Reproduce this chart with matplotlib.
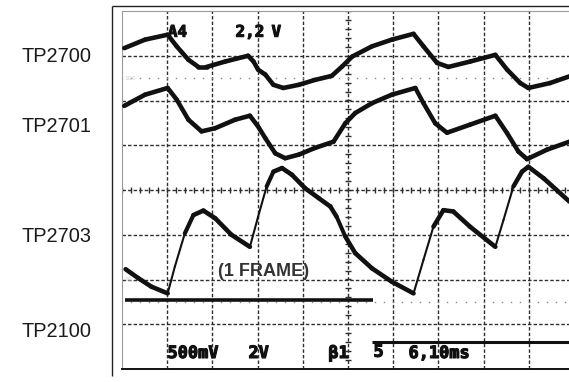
import numpy as np
import matplotlib
matplotlib.use("Agg")
import matplotlib.pyplot as plt
import matplotlib.patheffects as pe
from matplotlib.collections import LineCollection

# ---- data (time in scope divisions 0..10, amplitude in divisions -4..4) ----
t_2700 = [0.05, 0.51, 1.01, 1.21, 1.47, 1.69, 1.87, 2.28, 2.79, 2.91, 3.01, 3.17, 3.35, 3.57,
          3.91, 4.27, 4.64, 4.87, 5.09, 5.53, 5.97, 6.45, 6.67, 6.97, 7.22, 7.70, 8.26,
          8.52, 8.81, 8.99, 9.47, 9.90]
v_2700 = [3.17, 3.36, 3.47, 3.21, 2.91, 2.75, 2.75, 2.87, 3.00, 2.87, 2.69, 2.58, 2.35, 2.28,
          2.35, 2.46, 2.55, 2.76, 2.98, 3.21, 3.36, 3.49, 3.21, 2.84, 2.75, 2.87, 3.02,
          2.69, 2.39, 2.28, 2.39, 2.54]

t_2701 = [0.05, 0.51, 1.01, 1.21, 1.47, 1.76, 2.06, 2.50, 2.83, 3.01, 3.17, 3.39, 3.61,
          3.91, 4.27, 4.68, 4.94, 5.16, 5.53, 5.97, 6.49, 6.67, 6.93, 7.19, 7.70, 8.26,
          8.52, 8.77, 8.96, 9.40, 9.90]
v_2701 = [1.88, 2.13, 2.28, 2.02, 1.57, 1.31, 1.38, 1.57, 1.66, 1.42, 1.16, 0.82, 0.71,
          0.79, 0.94, 1.08, 1.49, 1.72, 1.94, 2.13, 2.28, 1.94, 1.49, 1.28, 1.46, 1.66,
          1.27, 0.86, 0.69, 0.90, 1.08]

t_2703 = [0.08, 0.36, 0.65, 1.01, 1.17, 1.39, 1.58, 1.80, 2.06, 2.42, 2.83, 3.01, 3.20,
          3.35, 3.54, 3.76, 4.05, 4.35, 4.61, 4.75, 4.94, 5.16, 5.53, 5.97, 6.45, 6.67,
          6.89, 7.11, 7.33, 7.70, 8.26, 8.44, 8.66, 8.85, 8.99, 9.33, 9.90]
v_2703 = [-1.77, -1.97, -2.16, -2.31, -1.71, -0.97, -0.56, -0.46, -0.63, -1.00, -1.27,
          -0.60, 0.08, 0.41, 0.49, 0.34, 0.04, -0.18, -0.37, -0.60, -1.04, -1.41, -1.75,
          -2.05, -2.31, -1.56, -0.82, -0.45, -0.48, -0.82, -1.27, -0.67, 0.08, 0.41,
          0.52, 0.26, -0.26]

tp2100_t = [0.07, 5.56]
tp2100_v = [-2.46, -2.46]
marker_t = [5.54, 10.0]
marker_v = [-3.40, -3.40]

trace_labels = ["TP2700", "TP2701", "TP2703", "TP2100"]
readout_top = ["A4", "2,2", "V"]
readout_bottom = ["500mV", "2V", "\u03b21", "5", "6,10ms"]
frame_note = "(1 FRAME)"

W, H = 569, 382
fig = plt.figure(figsize=(W / 100, H / 100), dpi=100)
fig.patch.set_facecolor("white")

# background overlay (pixel coordinates) for frame + labels
bg = fig.add_axes([0, 0, 1, 1], zorder=0)
bg.set_xlim(0, W); bg.set_ylim(H, 0); bg.axis("off")
bg.plot([112, 112], [6, 376], color="#222222", lw=1.0, solid_capstyle="butt")
bg.plot([112, W], [6, 6], color="#222222", lw=1.0, solid_capstyle="butt")
label_base = [61.7, 131.7, 241.7, 336.7]
for lab, yb in zip(trace_labels, label_base):
    bg.text(22, yb, lab, ha="left", va="baseline", fontsize=14.4,
            family="Liberation Sans", color="#1a1a1a")

# scope screen axes
ax = fig.add_axes([122 / W, 13 / H, 452 / W, 358 / H], zorder=1)
ax.set_xlim(0, 10); ax.set_ylim(-4, 4)
ax.set_xticks([]); ax.set_yticks([])
ax.patch.set_alpha(0)
for s in ["left", "top"]:
    ax.spines[s].set_color("#9a9a9a"); ax.spines[s].set_linewidth(0.8)
ax.spines["bottom"].set_color("#111111"); ax.spines["bottom"].set_linewidth(1.4)
ax.spines["right"].set_visible(False)

gcol = "#2e2e2e"
for x in range(1, 10):
    ax.axvline(x, color=gcol, lw=1.0, ls=(0, (2.5, 1.5)), zorder=1)
for y in range(-3, 4):
    ax.axhline(y, color=gcol, lw=1.0, ls=(0, (2.5, 1.5)), zorder=1)
ticks_v = np.arange(-4, 4.001, 0.2)
ticks_h = np.arange(0, 10.001, 0.2)
ax.plot(np.full_like(ticks_v, 5), ticks_v, ls="none", marker="_", ms=5, mew=1.0, color=gcol, zorder=1)
ax.plot(ticks_h, np.zeros_like(ticks_h), ls="none", marker="|", ms=5, mew=1.0, color=gcol, zorder=1)
for lvl in (2.5, -2.5):
    ax.plot(ticks_h, np.full_like(ticks_h, lvl), ls="none", marker="s", ms=1.0, mew=0,
            color="#8a8a8a", zorder=1)
ax.text(0.05, 2.5, "100", fontsize=4.5, color="#cccccc", va="center", ha="left")
ax.text(0.05, -2.0, "10", fontsize=4.5, color="#cccccc", va="center", ha="left")


def draw_trace(t, v, base=3.3, thin=1.5):
    t = np.asarray(t, float); v = np.asarray(v, float)
    pts = np.column_stack([t, v])
    segs = np.stack([pts[:-1], pts[1:]], axis=1)
    slope = np.abs(np.diff(v) / np.diff(t))
    w = np.clip(base / (1 + (slope / 3.2) ** 6), thin, base)
    lc = LineCollection(segs, linewidths=w, colors="#111111",
                        capstyle="round", joinstyle="round", zorder=3)
    ax.add_collection(lc)


draw_trace(t_2700, v_2700)
draw_trace(t_2701, v_2701)
draw_trace(t_2703, v_2703)
ax.plot(tp2100_t, tp2100_v, color="#111111", lw=2.6, solid_capstyle="butt", zorder=3)
ax.plot(marker_t, marker_v, color="#111111", lw=2.2, solid_capstyle="butt", zorder=3)

# readout overlay (pixel coordinates)
ov = fig.add_axes([0, 0, 1, 1], zorder=2)
ov.set_xlim(0, W); ov.set_ylim(H, 0); ov.axis("off")
heavy = [pe.withStroke(linewidth=0.8, foreground="#111111")]
mono = dict(family="DejaVu Sans Mono", weight="bold", color="#111111", va="baseline",
            ha="left", path_effects=heavy)
for txt, x in zip(readout_top, [167.8, 235.5, 271.5]):
    ov.text(x, 36.7, txt, fontsize=11.5, **mono)
for txt, x, yb in zip(readout_bottom, [167.5, 248.5, 328.3, 373.5, 408.5], [358, 358, 358, 356.7, 358]):
    ov.text(x, yb, txt, fontsize=12.2, **mono)
ov.text(218, 276.5, frame_note, ha="left", va="baseline", fontsize=13,
        family="Liberation Sans", weight="bold", color="#333333")

fig.savefig("out.png", dpi=100, facecolor="white")
